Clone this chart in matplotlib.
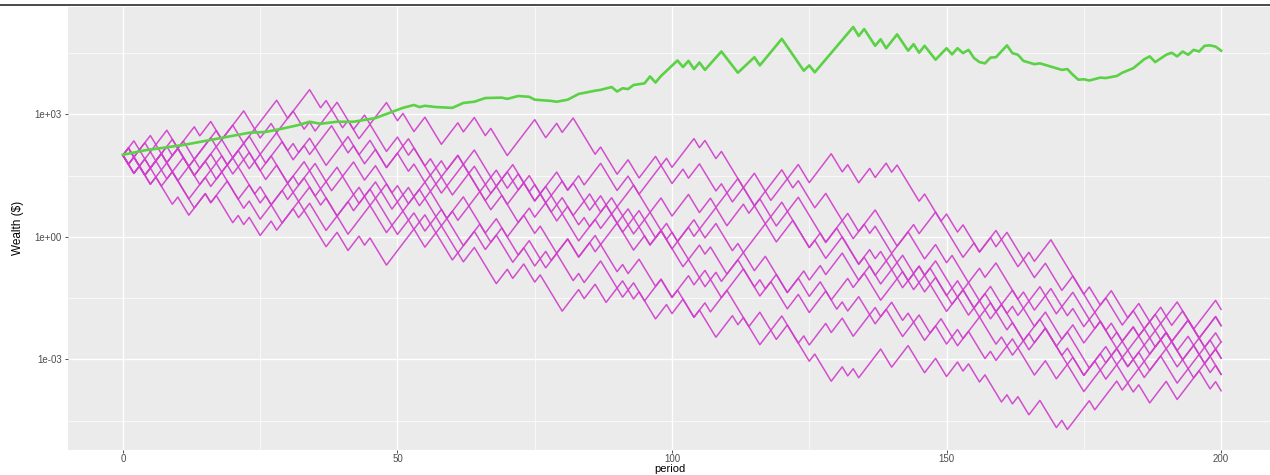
import numpy as np
import matplotlib.pyplot as plt
from matplotlib.lines import Line2D
from matplotlib.ticker import FixedLocator, FixedFormatter, NullFormatter

# turning points of the simulated players: (period, log10 wealth)
walk_0 = [(0, 2.0), (2, 2.352), (3, 2.13), (5, 2.482), (6, 2.26), (8, 2.612), (10, 2.168), (13, 2.696), (14, 2.474),
          (16, 2.826), (18, 2.382), (22, 3.086), (24, 2.642), (25, 2.818), (28, 3.346), (30, 2.902), (34, 3.606),
          (36, 3.162), (37, 3.338), (40, 2.673), (41, 2.849), (43, 2.405), (45, 2.757), (48, 2.092), (50, 2.444),
          (52, 2.0), (53, 2.176), (56, 1.511), (58, 1.863), (59, 1.641), (61, 1.993), (65, 1.106), (68, 1.634),
          (70, 1.19), (72, 1.542), (75, 0.877), (76, 1.053), (78, 0.609), (80, 0.961), (83, 0.296), (84, 0.472),
          (85, 0.25), (88, 0.778), (90, 0.334), (92, 0.686), (96, -0.201), (98, 0.151), (100, -0.293), (103, 0.235),
          (104, 0.013), (108, 0.717), (110, 0.273), (113, 0.801), (114, 0.579), (116, 0.931), (119, 0.266),
          (123, 0.97), (125, 0.526), (128, -0.139), (130, 0.213), (134, -0.674), (135, -0.498), (137, -0.942),
          (140, -0.414), (143, -1.079), (144, -0.903), (146, -1.347), (148, -0.995), (150, -1.439), (152, -1.075),
          (155, -1.74), (156, -1.564), (158, -2.008), (160, -1.656), (164, -2.543), (165, -2.367), (166, -2.589),
          (168, -2.237), (171, -2.902), (172, -2.726), (175, -3.391), (178, -2.863), (179, -3.085), (181, -2.733),
          (183, -3.177), (187, -2.473), (188, -2.695), (190, -2.343), (193, -3.008), (196, -2.48), (198, -2.924),
          (200, -2.572)]
walk_1 = [(0, 2.0), (1, 2.176), (3, 1.732), (6, 2.26), (7, 2.038), (9, 2.39), (12, 1.725), (16, 2.429), (17, 2.207),
          (20, 2.735), (22, 2.291), (24, 2.643), (25, 2.421), (27, 2.776), (28, 2.554), (31, 3.082), (33, 2.638),
          (34, 2.814), (35, 2.592), (39, 3.296), (42, 2.631), (44, 2.983), (45, 2.761), (48, 3.289), (50, 2.845),
          (51, 3.023), (53, 2.579), (55, 2.931), (58, 2.266), (61, 2.794), (62, 2.572), (64, 2.924), (66, 2.48),
          (67, 2.656), (70, 1.991), (75, 2.872), (77, 2.429), (79, 2.781), (80, 2.559), (82, 2.911), (86, 2.024),
          (87, 2.2), (90, 1.535), (92, 1.887), (94, 1.443), (97, 1.971), (100, 1.306), (102, 1.659), (103, 1.437),
          (105, 1.789), (108, 1.124), (109, 1.3), (111, 0.856), (113, 1.208), (117, 0.321), (120, 0.849),
          (125, -0.26), (126, -0.083), (128, -0.527), (131, 0.001), (134, -0.664), (136, -0.312), (137, -0.534),
          (138, -0.358), (142, -1.245), (145, -0.717), (150, -1.826), (152, -1.473), (154, -1.917), (157, -1.389),
          (161, -2.276), (162, -2.1), (164, -2.544), (167, -2.016), (170, -2.681), (172, -2.329), (175, -2.994),
          (176, -3.215), (179, -2.687), (181, -3.131), (183, -2.779), (186, -3.444), (190, -2.74), (192, -3.184),
          (193, -3.008), (195, -3.452), (198, -2.924), (200, -3.368)]
walk_2 = [(0, 2.0), (1, 1.778), (3, 2.13), (5, 1.686), (8, 2.214), (9, 1.992), (10, 2.168), (13, 1.503), (17, 2.207),
          (19, 1.763), (21, 2.115), (23, 1.671), (25, 2.023), (28, 2.554), (30, 2.11), (31, 2.286), (32, 2.064),
          (34, 2.416), (37, 1.751), (41, 2.455), (43, 2.011), (45, 2.363), (48, 1.698), (50, 2.05), (52, 2.403),
          (55, 1.738), (56, 1.914), (58, 1.47), (61, 1.998), (62, 1.776), (64, 2.128), (68, 1.241), (71, 1.769),
          (74, 1.104), (75, 1.28), (76, 1.059), (79, 1.587), (81, 1.143), (83, 1.495), (84, 1.273), (87, 1.801),
          (90, 1.136), (92, 1.488), (94, 1.044), (99, 1.925), (100, 1.703), (104, 2.407), (105, 2.185),
          (106, 2.361), (108, 1.917), (109, 2.093), (113, 1.206), (115, 1.558), (117, 1.114), (120, 1.642),
          (121, 1.42), (123, 1.772), (125, 1.328), (129, 2.036), (131, 1.592), (132, 1.768), (134, 1.324),
          (136, 1.676), (137, 1.454), (139, 1.806), (140, 1.584), (141, 1.76), (145, 0.873), (146, 1.049),
          (149, 0.384), (150, 0.56), (152, 0.118), (153, 0.294), (156, -0.371), (158, -0.019), (159, -0.241),
          (161, 0.111), (164, -0.554), (165, -0.378), (166, -0.6), (169, -0.072), (175, -1.403), (176, -1.226),
          (178, -1.67), (180, -1.318), (183, -1.983), (184, -1.807), (186, -2.251), (189, -1.723), (191, -2.167),
          (193, -1.815), (196, -2.48), (199, -1.952), (200, -2.174)]
walk_3 = [(0, 2.0), (1, 2.176), (2, 1.954), (4, 2.306), (6, 1.862), (7, 2.038), (8, 1.816), (11, 2.344), (13, 1.9),
          (17, 2.604), (20, 1.939), (23, 2.467), (25, 2.023), (26, 1.804), (29, 2.332), (31, 1.888), (33, 2.24),
          (34, 2.018), (38, 2.722), (41, 2.057), (42, 2.233), (44, 1.789), (46, 2.141), (48, 1.697), (50, 2.049),
          (52, 1.607), (53, 1.783), (56, 1.118), (58, 1.47), (59, 1.248), (62, 1.776), (66, 0.889), (68, 1.241),
          (70, 0.797), (73, 1.325), (75, 0.881), (77, 1.235), (80, 0.57), (81, 0.746), (82, 0.524), (85, 1.052),
          (87, 0.608), (89, 0.96), (93, 0.073), (96, 0.601), (99, -0.064), (100, 0.112), (101, -0.109),
          (104, 0.419), (106, -0.025), (108, 0.327), (111, -0.338), (112, -0.162), (113, -0.384), (117, 0.32),
          (119, -0.124), (122, 0.404), (125, -0.261), (127, 0.094), (128, -0.128), (131, 0.4), (133, -0.044),
          (135, 0.308), (136, 0.086), (137, 0.262), (140, -0.403), (144, 0.301), (145, 0.079), (148, 0.607),
          (150, 0.163), (153, -0.501), (155, -0.149), (156, -0.371), (159, 0.157), (163, -0.73), (164, -0.554),
          (166, -0.998), (168, -0.646), (171, -1.311), (173, -0.959), (175, -1.403), (177, -1.847), (179, -1.495),
          (182, -2.16), (185, -1.632), (187, -2.076), (188, -1.9), (189, -2.122), (192, -1.594), (195, -2.259),
          (199, -1.555), (200, -1.777)]
walk_4 = [(0, 2.0), (2, 1.556), (3, 1.732), (4, 1.51), (7, 2.038), (9, 1.594), (11, 1.946), (14, 1.281), (18, 1.985),
          (20, 1.541), (23, 2.069), (25, 1.625), (27, 1.98), (30, 1.315), (31, 1.491), (32, 1.269), (35, 1.797),
          (37, 1.353), (39, 1.705), (43, 0.818), (46, 1.346), (49, 0.681), (50, 0.857), (52, 1.21), (53, 0.988),
          (56, 1.516), (58, 1.072), (59, 1.248), (60, 1.026), (64, 1.73), (67, 1.065), (70, 1.593), (72, 1.149),
          (74, 1.501), (75, 1.279), (77, 0.837), (80, 1.365), (81, 1.143), (82, 1.319), (85, 0.654), (87, 1.006),
          (89, 0.562), (93, 1.266), (96, 0.601), (98, 0.953), (100, 0.509), (103, 1.039), (105, 0.595),
          (107, 0.947), (108, 0.725), (112, 1.429), (115, 0.764), (117, 1.116), (118, 0.894), (121, 1.422),
          (122, 1.2), (123, 1.376), (125, 0.932), (126, 0.712), (128, 1.064), (131, 0.399), (132, 0.575),
          (134, 0.131), (137, 0.659), (141, -0.228), (143, 0.124), (146, -0.541), (148, -0.189), (150, -0.633),
          (151, -0.456), (154, -1.121), (156, -0.769), (157, -0.991), (159, -0.639), (163, -1.526), (164, -1.35),
          (166, -1.794), (169, -1.266), (172, -1.931), (173, -1.755), (175, -2.199), (177, -1.847), (179, -2.291),
          (180, -2.115), (183, -2.78), (186, -2.252), (187, -2.474), (189, -2.122), (191, -2.566), (194, -2.038),
          (197, -2.703), (199, -2.351), (200, -2.573)]
walk_5 = [(0, 2.0), (1, 2.176), (3, 1.732), (4, 1.908), (5, 1.686), (7, 2.038), (10, 1.373), (13, 1.901), (14, 1.679),
          (16, 2.031), (18, 1.587), (22, 2.291), (25, 1.626), (26, 1.406), (28, 1.758), (30, 1.314), (33, 1.842),
          (36, 1.177), (37, 1.353), (38, 1.131), (42, 1.835), (44, 1.391), (46, 1.743), (49, 1.078), (50, 1.254),
          (52, 0.811), (54, 1.163), (57, 0.498), (58, 0.674), (59, 0.452), (62, 0.98), (66, 0.093), (68, 0.445),
          (70, 0.001), (73, 0.529), (75, 0.085), (76, 0.263), (79, -0.402), (81, -0.05), (83, -0.494), (86, 0.034),
          (90, -0.853), (91, -0.677), (92, -0.899), (94, -0.547), (97, -1.212), (98, -1.036), (100, -1.48),
          (103, -0.952), (104, -1.174), (106, -0.822), (109, -1.487), (113, -0.783), (115, -1.227), (116, -1.051),
          (117, -1.273), (119, -0.921), (121, -1.365), (123, -1.013), (125, -1.457), (127, -1.101), (129, -1.545),
          (132, -1.017), (133, -1.239), (135, -0.887), (138, -1.552), (142, -0.848), (144, -1.292), (147, -0.764),
          (150, -1.429), (151, -1.649), (154, -1.121), (156, -1.565), (158, -1.213), (161, -1.878), (162, -1.702),
          (163, -1.924), (167, -1.22), (170, -1.885), (173, -1.357), (175, -1.801), (177, -2.245), (178, -2.069),
          (181, -2.734), (184, -2.206), (185, -2.428), (187, -2.076), (190, -2.741), (194, -2.037), (196, -2.481),
          (199, -1.953), (200, -2.175)]
walk_6 = [(0, 2.0), (1, 1.778), (2, 1.954), (4, 1.51), (6, 1.862), (7, 1.64), (10, 2.168), (13, 1.503), (15, 1.855),
          (17, 1.411), (20, 1.939), (24, 1.052), (25, 1.228), (27, 0.786), (29, 1.138), (30, 0.916), (33, 1.444),
          (36, 0.779), (37, 0.955), (39, 0.511), (41, 0.863), (42, 0.641), (45, 1.169), (49, 0.282), (50, 0.458),
          (53, 0.986), (54, 0.764), (56, 1.116), (59, 0.451), (60, 0.627), (61, 0.405), (65, 1.109), (67, 0.665),
          (69, 1.017), (72, 0.352), (74, 0.704), (75, 0.482), (77, 0.834), (79, 0.39), (80, 0.566), (83, -0.099),
          (86, 0.429), (87, 0.207), (89, 0.559), (91, 0.115), (94, 0.643), (97, -0.022), (99, 0.33), (100, 0.108),
          (103, -0.553), (105, -0.201), (106, -0.423), (107, -0.247), (110, -0.912), (113, -0.384), (115, -0.828),
          (117, -0.476), (121, -1.363), (124, -0.835), (125, -1.057), (127, -0.703), (128, -0.925), (131, -0.397),
          (134, -1.062), (136, -0.71), (138, -1.154), (142, -0.45), (144, -0.894), (145, -0.718), (146, -0.94),
          (148, -0.588), (150, -1.032), (152, -1.476), (153, -1.3), (156, -1.965), (158, -1.613), (159, -1.835),
          (162, -1.307), (166, -2.194), (168, -1.842), (171, -2.507), (173, -2.155), (175, -2.599), (178, -2.068),
          (180, -2.512), (181, -2.336), (182, -2.558), (184, -2.206), (187, -2.871), (190, -2.343), (192, -2.787),
          (194, -2.435), (197, -3.1), (199, -2.748), (200, -2.97)]
walk_7 = [(0, 2.0), (2, 1.556), (3, 1.732), (5, 1.288), (7, 1.64), (8, 1.418), (9, 1.594), (12, 0.929), (15, 1.457),
          (16, 1.235), (18, 1.587), (21, 0.922), (23, 1.274), (25, 0.83), (26, 1.006), (27, 0.784), (30, 1.312),
          (32, 0.868), (34, 1.22), (35, 0.998), (36, 1.174), (39, 0.509), (43, 1.213), (45, 0.769), (48, 1.297),
          (50, 0.853), (53, 0.188), (55, 0.54), (56, 0.318), (57, 0.494), (61, -0.393), (64, 0.135), (66, -0.309),
          (68, 0.043), (71, -0.622), (73, -0.27), (75, -0.714), (77, -0.356), (78, -0.578), (81, -0.05),
          (83, -0.494), (85, -0.142), (86, -0.364), (90, 0.34), (93, -0.325), (95, 0.027), (96, -0.195),
          (98, 0.157), (100, -0.287), (102, -0.731), (103, -0.555), (106, -1.22), (108, -0.868), (109, -1.09),
          (112, -0.562), (116, -1.449), (118, -1.097), (121, -1.762), (123, -1.41), (125, -1.854), (128, -1.326),
          (130, -1.77), (131, -1.594), (132, -1.816), (134, -1.464), (137, -2.129), (140, -1.601), (142, -2.045),
          (143, -1.869), (146, -2.534), (148, -2.182), (150, -2.626), (152, -2.269), (153, -2.491), (156, -1.963),
          (159, -2.628), (160, -2.452), (162, -2.896), (164, -2.544), (165, -2.766), (168, -2.238), (172, -3.125),
          (173, -2.949), (175, -3.393), (177, -3.041), (178, -3.263), (181, -2.735), (183, -3.179), (185, -2.827),
          (186, -3.049), (190, -2.345), (193, -3.01), (195, -2.658), (196, -2.88), (198, -2.528), (200, -2.972)]
walk_8 = [(0, 2.0), (1, 1.778), (2, 1.954), (5, 1.289), (6, 1.465), (7, 1.243), (9, 1.595), (13, 0.708), (15, 1.06),
          (16, 0.838), (19, 1.366), (22, 0.701), (23, 0.877), (25, 0.433), (27, 0.785), (29, 0.341), (32, 0.869),
          (33, 0.647), (34, 0.823), (37, 0.158), (39, 0.51), (41, 0.066), (45, 0.77), (48, 0.105), (49, 0.281),
          (50, 0.059), (53, 0.587), (55, 0.143), (56, 0.319), (57, 0.097), (59, 0.449), (62, -0.216), (65, 0.312),
          (67, -0.132), (69, 0.22), (72, -0.445), (74, -0.093), (75, -0.315), (77, -0.759), (79, -0.407),
          (82, -1.072), (83, -0.896), (84, -1.118), (87, -0.59), (91, -1.477), (93, -1.125), (95, -1.569),
          (98, -1.041), (100, -1.485), (101, -1.303), (104, -1.968), (106, -1.616), (107, -1.838), (110, -1.31),
          (114, -2.197), (116, -1.845), (118, -2.289), (120, -1.937), (123, -2.602), (124, -2.426), (125, -2.648),
          (128, -2.12), (129, -2.342), (131, -1.99), (133, -2.434), (137, -1.73), (138, -1.952), (139, -1.776),
          (142, -2.441), (145, -1.913), (147, -2.357), (149, -2.005), (150, -2.227), (152, -2.667), (154, -2.315),
          (157, -2.98), (158, -2.804), (159, -3.026), (162, -2.498), (166, -3.385), (168, -3.033), (170, -3.477),
          (172, -3.125), (175, -3.79), (178, -3.262), (179, -3.484), (181, -3.132), (183, -3.576), (186, -3.048),
          (187, -3.27), (189, -2.918), (192, -3.583), (196, -2.879), (198, -3.323), (199, -3.147), (200, -3.369)]
walk_9 = [(0, 2.0), (2, 1.556), (3, 1.732), (4, 1.51), (5, 1.686), (9, 0.799), (10, 0.975), (12, 0.531), (15, 1.059),
          (16, 0.837), (17, 1.013), (20, 0.348), (21, 0.524), (22, 0.302), (23, 0.478), (25, 0.034), (27, 0.386),
          (28, 0.164), (31, 0.692), (32, 0.47), (33, 0.646), (37, -0.241), (39, 0.111), (41, -0.333), (43, 0.019),
          (44, -0.203), (45, -0.027), (48, -0.692), (50, -0.336), (53, 0.192), (55, -0.252), (57, 0.1),
          (60, -0.565), (61, -0.389), (62, -0.611), (64, -0.259), (68, -1.146), (70, -0.794), (71, -1.016),
          (73, -0.664), (75, -1.108), (76, -0.932), (80, -1.819), (83, -1.291), (84, -1.513), (86, -1.161),
          (88, -1.605), (91, -1.077), (93, -1.521), (94, -1.345), (97, -2.01), (99, -1.658), (100, -1.88),
          (102, -1.525), (104, -1.969), (105, -1.793), (108, -2.458), (111, -1.93), (112, -2.152), (113, -1.976),
          (116, -2.641), (118, -2.289), (119, -2.511), (121, -2.159), (125, -3.046), (126, -2.87), (129, -3.535),
          (131, -3.183), (132, -3.405), (133, -3.229), (134, -3.451), (138, -2.747), (140, -3.191), (143, -2.663),
          (146, -3.328), (148, -2.976), (150, -3.42), (152, -3.065), (153, -3.287), (154, -3.111), (156, -3.555),
          (157, -3.379), (160, -4.044), (161, -3.868), (162, -4.09), (163, -3.914), (165, -4.358), (167, -4.006),
          (170, -4.671), (171, -4.495), (172, -4.717), (175, -4.189), (176, -4.013), (177, -4.235), (181, -3.531),
          (182, -3.753), (183, -3.577), (184, -3.799), (185, -3.623), (187, -4.067), (190, -3.539), (192, -3.983),
          (196, -3.279), (198, -3.723), (199, -3.547), (200, -3.769)]
walks = [walk_0, walk_1, walk_2, walk_3, walk_4, walk_5, walk_6, walk_7, walk_8, walk_9]

# ensemble average wealth (period, log10 wealth)
ensemble_avg = [(0, 2.01), (4, 2.12), (11, 2.25), (17, 2.40), (23, 2.55), (26, 2.57), (29, 2.65), (32, 2.74),
                (34, 2.82), (36, 2.77), (39, 2.82), (42, 2.82), (46, 2.91), (48, 3.01), (51, 3.16), (53, 3.23),
                (54, 3.18), (55, 3.21), (57, 3.18), (60, 3.16), (62, 3.28), (64, 3.31), (66, 3.40), (69, 3.41),
                (70, 3.38), (72, 3.45), (74, 3.43), (75, 3.36), (78, 3.33), (79, 3.31), (81, 3.36), (83, 3.50),
                (86, 3.58), (87, 3.60), (89, 3.67), (90, 3.56), (91, 3.64), (92, 3.62), (93, 3.72), (95, 3.76),
                (96, 3.93), (97, 3.78), (98, 3.94), (101, 4.32), (102, 4.16), (103, 4.31), (104, 4.11), (105, 4.27),
                (106, 4.09), (109, 4.54), (112, 4.02), (115, 4.40), (116, 4.20), (120, 4.85), (124, 4.07),
                (125, 4.20), (126, 4.03), (133, 5.14), (134, 4.92), (135, 5.09), (137, 4.68), (138, 4.84),
                (139, 4.62), (141, 4.96), (143, 4.56), (144, 4.72), (145, 4.51), (146, 4.68), (148, 4.34),
                (150, 4.62), (151, 4.47), (152, 4.62), (153, 4.50), (154, 4.58), (155, 4.38), (156, 4.28),
                (157, 4.25), (158, 4.39), (159, 4.40), (161, 4.69), (162, 4.50), (163, 4.46), (164, 4.31),
                (166, 4.23), (167, 4.25), (169, 4.17), (171, 4.09), (172, 4.11), (173, 3.97), (174, 3.85),
                (175, 3.86), (176, 3.83), (178, 3.90), (179, 3.89), (181, 3.94), (182, 4.02), (184, 4.13),
                (186, 4.35), (187, 4.42), (188, 4.28), (190, 4.46), (191, 4.51), (192, 4.42), (193, 4.54),
                (194, 4.46), (195, 4.58), (196, 4.54), (197, 4.68), (198, 4.69), (199, 4.66), (200, 4.56)]

x_ticks = [0, 50, 100, 150, 200]
y_ticks = [1e-3, 1e0, 1e3]
y_labels = ["1e-03", "1e+00", "1e+03"]

W, H = 1270, 475
fig = plt.figure(figsize=(W / 100, H / 100), dpi=100)
fig.patch.set_facecolor("white")

# panel in pixels: left 68, top 7, bottom 450 (runs past right edge of screenshot)
ax = fig.add_axes([68 / W, (H - 450) / H, (1276 - 68) / W, (450 - 7) / H])
ax.set_facecolor("#EBEBEB")
for s in ax.spines.values():
    s.set_visible(False)

for w in walks:
    t = [p[0] for p in w]
    v = [10 ** p[1] for p in w]
    ax.plot(t, v, color="#CF3DCB", lw=1.1, alpha=0.9, zorder=3)

ga_t = [p[0] for p in ensemble_avg]
ga_v = [10 ** p[1] for p in ensemble_avg]
ax.plot(ga_t, ga_v, color="#5BD145", lw=1.9, zorder=4)

ax.set_yscale("log")
ax.set_xlim(-10, 210)
ax.set_ylim(10 ** -5.22, 10 ** 5.63)

ax.xaxis.set_major_locator(FixedLocator(x_ticks))
ax.xaxis.set_minor_locator(FixedLocator([25, 75, 125, 175]))
ax.yaxis.set_major_locator(FixedLocator(y_ticks))
ax.yaxis.set_major_formatter(FixedFormatter(y_labels))
ax.yaxis.set_minor_locator(FixedLocator([10 ** -4.5, 10 ** -1.5, 10 ** 1.5, 10 ** 4.5]))
ax.yaxis.set_minor_formatter(NullFormatter())

ax.grid(which="major", color="white", lw=1.0)
ax.grid(which="minor", color="white", lw=0.5)
ax.set_axisbelow(True)

ax.tick_params(which="major", length=2.5, width=0.6, color="#333333", labelsize=7,
               labelcolor="#4D4D4D")
ax.tick_params(axis="x", which="major", pad=0.5)
ax.tick_params(axis="y", which="major", pad=2)
ax.tick_params(which="minor", length=0)
for lab in ax.get_xticklabels() + ax.get_yticklabels():
    lab.set_family("Liberation Sans")

ax.set_xlabel("period", fontsize=8, family="Liberation Sans")
ax.set_ylabel("Wealth ($)", fontsize=8.5, family="Liberation Sans")
# title positions in axes fraction (panel spans x 68..1276 px, y 7..450 px)
ax.xaxis.set_label_coords((670 - 68) / 1208, (450 - 469.5) / 443)
ax.yaxis.set_label_coords((18 - 68) / 1208, (450 - 228) / 443)
ax.xaxis.label.set_va("center")
ax.yaxis.label.set_va("center")

# dark rule at the very top of the screenshot
fig.add_artist(Line2D([0, 1], [1 - 4.5 / H, 1 - 4.5 / H], color="#3C3C3C", lw=1.3))

fig.savefig("out.png", dpi=100)
